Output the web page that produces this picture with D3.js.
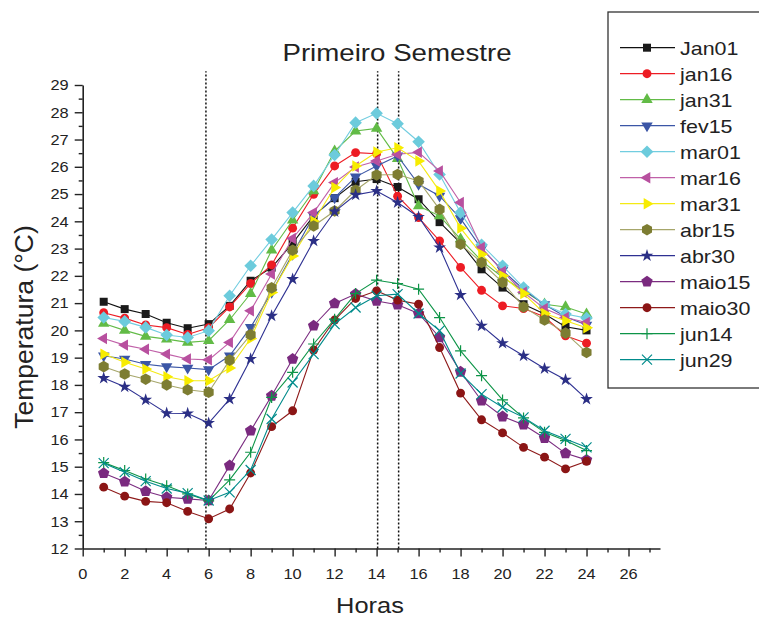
<!DOCTYPE html>
<html>
<head>
<meta charset="utf-8">
<script src="https://cdn.jsdelivr.net/npm/d3@7"></script>
<style>
  body { margin: 0; background: #fff; }
  text { font-family: "Liberation Sans", Arial, sans-serif; fill: #222; }
</style>
</head>
<body>
<div id="chart"></div>
<script>
// hours of the day (x) and one temperature row per date (°C)
var horas = [1,2,3,4,5,6,7,8,9,10,11,12,13,14,15,16,17,18,19,20,21,22,23,24];
var names = ["Jan01","jan16","jan31","fev15","mar01","mar16","mar31","abr15","abr30","maio15","maio30","jun14","jun29"];

var jan01  = [21.05,20.78,20.6,20.28,20.08,20.23,20.9,21.82,22.3,23.2,24.2,24.85,25.45,25.55,25.26,24.81,23.97,23.2,22.24,21.57,20.96,20.6,20.13,20.0];
var jan16  = [20.65,20.45,20.2,20.1,19.85,20.1,20.86,21.72,22.4,23.75,24.99,26.03,26.52,26.48,24.92,24.14,23.28,22.31,21.47,20.9,20.8,20.5,19.8,19.53];
var jan31  = [20.25,20.0,19.78,19.68,19.56,19.62,20.39,21.35,22.94,24.04,25.11,26.58,27.31,27.41,26.3,24.56,24.2,23.35,22.55,21.95,21.45,20.96,20.86,20.6];
var fev15  = [19.07,18.95,18.76,18.67,18.62,18.56,19.07,20.11,21.4,22.8,24.2,24.87,25.63,26.03,26.4,25.36,24.93,24.1,23.0,22.2,21.5,20.95,20.5,20.2];
var mar01  = [20.47,20.33,20.11,19.83,19.74,19.99,21.27,22.37,23.33,24.32,25.3,26.43,27.62,27.96,27.58,26.92,25.72,24.32,23.14,22.37,21.57,20.94,20.6,20.45];
var mar16  = [19.7,19.46,19.31,19.13,18.95,18.92,19.56,20.72,22.07,23.37,24.32,25.42,25.99,26.21,26.46,26.53,25.85,24.69,23.04,22.16,21.4,20.8,20.47,20.29];
var mar31  = [19.13,18.83,18.58,18.3,18.15,18.15,18.62,19.7,21.39,22.73,24.0,25.24,26.03,26.54,26.7,26.21,25.11,23.75,22.79,22.0,21.35,20.62,20.35,20.1];
var abr15  = [18.67,18.4,18.21,18.0,17.82,17.73,18.91,19.84,21.56,22.94,23.83,24.38,25.14,25.7,25.72,25.48,24.44,23.16,22.49,21.76,20.86,20.38,19.9,19.19];
var abr30  = [18.25,17.93,17.45,16.96,16.95,16.6,17.48,18.95,20.53,21.88,23.28,24.36,24.97,25.11,24.69,24.16,23.04,21.3,20.17,19.53,19.07,18.6,18.19,17.48];
var maio15 = [14.76,14.45,14.1,13.88,13.82,13.76,15.04,16.32,17.6,18.95,20.17,20.99,21.33,21.08,20.94,20.62,19.74,18.48,17.42,16.84,16.54,16.05,15.49,15.25];
var maio30 = [14.25,13.92,13.73,13.68,13.36,13.09,13.45,14.77,16.47,17.05,19.28,20.38,21.17,21.45,21.11,20.96,19.37,17.7,16.72,16.24,15.71,15.35,14.92,15.2];
var jun14  = [15.15,14.86,14.55,14.3,14.0,13.75,14.52,15.53,17.54,18.46,19.5,20.41,21.35,21.84,21.72,21.51,20.47,19.25,18.34,17.45,16.79,16.26,15.96,15.59];
var jun29  = [15.13,14.8,14.47,14.2,14.03,13.76,14.06,14.88,16.75,18.09,19.13,20.23,20.84,21.27,21.33,20.62,19.99,18.42,17.66,17.18,16.81,16.32,16.02,15.71];
var values = [jan01,jan16,jan31,fev15,mar01,mar16,mar31,abr15,abr30,maio15,maio30,jun14,jun29];

var xTicks = [0,2,4,6,8,10,12,14,16,18,20,22,24,26];
var yTicks = [12,13,14,15,16,17,18,19,20,21,22,23,24,25,26,27,28,29];
var marks = [5.87, 14.05, 15.05];   // dotted vertical lines

// look of each series: line colour, marker fill, marker shape
var lineColors = ["#111","#ed1c24","#62bb46","#3b56a6","#72cde0","#c060a8","#f4ea14","#a6a66a","#2e3192","#7b2c80","#8e1a1a","#0d9447","#008b8b"];
var fillColors = ["#1a1a1a","#ed1c24","#62bb46","#3b56a6","#6ccbdc","#b8509f","#f7ec00","#7d7d32","#2b2f85","#7a2a7f","#8b1515","#0d9447","#008b8b"];
var shapes = ["square","circle","up","down","diamond","left","right","hexagon","star","pentagon","circle","plus","x"];

var W = 759, H = 620;
var sx = 1.13; // glyphs in the picture are a little wide

var svg = d3.select("#chart").append("svg")
    .attr("width", W).attr("height", H);

var x = d3.scaleLinear().domain([0, 27.5]).range([82.7, 660]);
var y = d3.scaleLinear().domain([12, 29]).range([548.5, 85]);

function txt(g, px, py, s, size, anchor) {
  return g.append("text")
    .attr("transform", "translate(" + px + "," + py + ") scale(" + sx + ",1)")
    .attr("text-anchor", anchor || "start")
    .style("font-size", size + "px")
    .text(s);
}

// marker path generator, centred on 0,0
function poly(n, r, rot) {
  var p = [];
  for (var i = 0; i < n; i++) {
    var a = rot + i * 2 * Math.PI / n;
    p.push([r * Math.cos(a), r * Math.sin(a)]);
  }
  return "M" + p.map(function (q) { return q[0].toFixed(2) + "," + q[1].toFixed(2); }).join("L") + "Z";
}
function markerPath(shape) {
  switch (shape) {
    case "square": return "M-4,-4H4V4H-4Z";
    case "circle": return d3.symbol(d3.symbolCircle, 62)();
    case "up": return poly(3, 6.6, -Math.PI / 2);
    case "down": return poly(3, 6.6, Math.PI / 2);
    case "left": return poly(3, 6.6, Math.PI);
    case "right": return poly(3, 6.6, 0);
    case "diamond": return "M0,-6.3L6.3,0L0,6.3L-6.3,0Z";
    case "hexagon": return poly(6, 5.8, -Math.PI / 2);
    case "pentagon": return poly(5, 6.0, -Math.PI / 2);
    case "star": return d3.symbol(d3.symbolStar, 50)();
    case "plus": return "M-5.5,0H5.5M0,-5.5V5.5";
    case "x": return "M-5,-5L5,5M-5,5L5,-5";
  }
}
function isStroked(shape) { return shape === "plus" || shape === "x"; }

// axes
var gx = svg.append("g").attr("transform", "translate(0," + y(12) + ")");
gx.call(d3.axisBottom(x).tickValues(xTicks).tickSize(8).tickSizeOuter(0).tickFormat(""));
gx.append("g").call(d3.axisBottom(x).tickValues(xTicks.map(function (d) { return d + 1; }))
    .tickSize(4).tickSizeOuter(0).tickFormat(""));
gx.selectAll("path.domain").attr("stroke", "#222").attr("stroke-width", 1.6);
gx.selectAll(".tick line").attr("stroke", "#222").attr("stroke-width", 1.4);
gx.selectAll("g > g > path.domain").remove();

var gy = svg.append("g").attr("transform", "translate(" + x(0) + ",0)");
gy.call(d3.axisLeft(y).tickValues(yTicks).tickSize(8).tickSizeOuter(0).tickFormat(""));
gy.append("g").call(d3.axisLeft(y).tickValues(yTicks.slice(0, -1).map(function (d) { return d + 0.5; }))
    .tickSize(4).tickSizeOuter(0).tickFormat(""));
gy.selectAll("path.domain").attr("stroke", "#222").attr("stroke-width", 1.6);
gy.selectAll(".tick line").attr("stroke", "#222").attr("stroke-width", 1.4);
gy.selectAll("g > g > path.domain").remove();

xTicks.forEach(function (d) { txt(svg, x(d), 579, d, 14.5, "middle"); });
yTicks.forEach(function (d) { txt(svg, x(0) - 14, y(d) + 5.3, d, 14.5, "end"); });

// dotted reference lines
svg.append("g").selectAll("line").data(marks).enter().append("line")
    .attr("x1", function (d) { return x(d); }).attr("x2", function (d) { return x(d); })
    .attr("y1", y(12)).attr("y2", y(29.5))
    .attr("stroke", "#111").attr("stroke-width", 1.5).attr("stroke-dasharray", "2,2");

// series: line first, then markers, in legend order
var line = d3.line()
    .x(function (d, i) { return x(horas[i]); })
    .y(function (d) { return y(d); });

values.forEach(function (vals, k) {
  var g = svg.append("g").attr("class", "series");
  g.append("path").datum(vals)
    .attr("d", line).attr("fill", "none")
    .attr("stroke", lineColors[k]).attr("stroke-width", 1.1);
  var sh = shapes[k];
  g.selectAll("path.m").data(vals).enter().append("path")
    .attr("class", "m")
    .attr("d", markerPath(sh))
    .attr("transform", function (d, i) { return "translate(" + x(horas[i]) + "," + y(d) + ")"; })
    .attr("fill", isStroked(sh) ? "none" : fillColors[k])
    .attr("stroke", isStroked(sh) ? fillColors[k] : "none")
    .attr("stroke-width", 1.2);
});

// titles
txt(svg, 397, 61, "Primeiro Semestre", 24.5, "middle");
txt(svg, 370, 613, "Horas", 22.5, "middle");
svg.append("text")
    .attr("transform", "translate(33,327) rotate(-90)")
    .attr("text-anchor", "middle")
    .style("font-size", "26.5px")
    .text("Temperatura (°C)");

// legend
var leg = svg.append("g");
leg.append("rect").attr("x", 608).attr("y", 12).attr("width", 200).attr("height", 376)
    .attr("fill", "#fff").attr("stroke", "#333").attr("stroke-width", 1.3);
names.forEach(function (n, k) {
  var cy = 47.7 + k * 26;
  var sh = shapes[k];
  leg.append("line").attr("x1", 620).attr("x2", 675).attr("y1", cy).attr("y2", cy)
     .attr("stroke", lineColors[k]).attr("stroke-width", 1.3);
  leg.append("path").attr("d", markerPath(sh))
     .attr("transform", "translate(647," + cy + ")")
     .attr("fill", isStroked(sh) ? "none" : fillColors[k])
     .attr("stroke", isStroked(sh) ? fillColors[k] : "none")
     .attr("stroke-width", 1.2);
  txt(leg, 680, cy + 7, n, 19, "start");
});
</script>
</body>
</html>
